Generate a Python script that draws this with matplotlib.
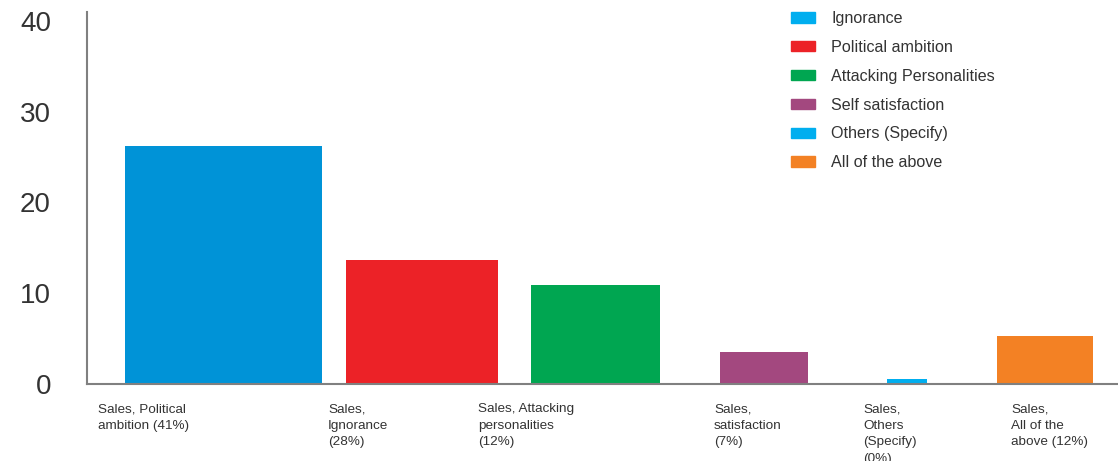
import matplotlib.pyplot as plt
from matplotlib.patches import Patch

plt.rcParams['font.family'] = ['Liberation Sans', 'DejaVu Sans']

# Datos de las categorías y sus valores
categorias = ['Sales, Political\nambition (41%)',
              'Sales,\nIgnorance\n(28%)',
              'Sales, Attacking\npersonalities\n(12%)',
              'Sales,\nsatisfaction\n(7%)',
              'Sales,\nOthers\n(Specify)\n(0%)',
              'Sales,\nAll of the\nabove (12%)']
valores = [26.2, 13.6, 10.9, 3.5, 0.5, 5.3]
leyenda = ['Ignorance', 'Political ambition', 'Attacking Personalities',
           'Self satisfaction', 'Others (Specify)', 'All of the above']

colores_barras = ['#0093D7', '#EC2227', '#00A651', '#A3487F', '#00AEEF', '#F38124']
colores_leyenda = ['#00AEEF', '#EC2227', '#00A651', '#A3487F', '#00AEEF', '#F38124']

# Posición y ancho de cada barra (en píxeles del eje)
centros = [136.5, 335, 508.5, 677, 820, 958]
anchos = [197, 152, 129, 88, 40, 96]
pos_etiquetas = [11, 241, 391, 627, 776, 924]

fig = plt.figure(figsize=(11.18, 4.61), dpi=100)
ax = fig.add_axes([87 / 1118, 1 - 383.7 / 461, 1 - 87 / 1118, (383.7 - 12) / 461])

ax.bar(centros, valores, width=anchos, color=colores_barras)

ax.set_xlim(0, 1031)
ax.set_ylim(0, 41)
ax.set_yticks([0, 10, 20, 30, 40])
ax.tick_params(axis='y', length=0, pad=26, labelsize=20, labelcolor='#333333')

ax.set_xticks(pos_etiquetas)
ax.set_xticklabels(categorias, ha='left', va='top', fontsize=9.7,
                   color='#333333', linespacing=1.5)
ax.tick_params(axis='x', length=0, pad=14)

for lado in ['top', 'right']:
    ax.spines[lado].set_visible(False)
for lado in ['left', 'bottom']:
    ax.spines[lado].set_color('#808080')
    ax.spines[lado].set_linewidth(1.5)

handles = [Patch(color=c) for c in colores_leyenda]
fig.legend(handles, leyenda, loc='upper left',
           bbox_to_anchor=(791 / 1118, 1 - 11 / 461),
           frameon=False, fontsize=11.6, borderpad=0, borderaxespad=0,
           handlelength=1.5, handleheight=0.62, handletextpad=1.0,
           labelspacing=0.86, labelcolor='#333333')

fig.savefig('out.png', dpi=100)
